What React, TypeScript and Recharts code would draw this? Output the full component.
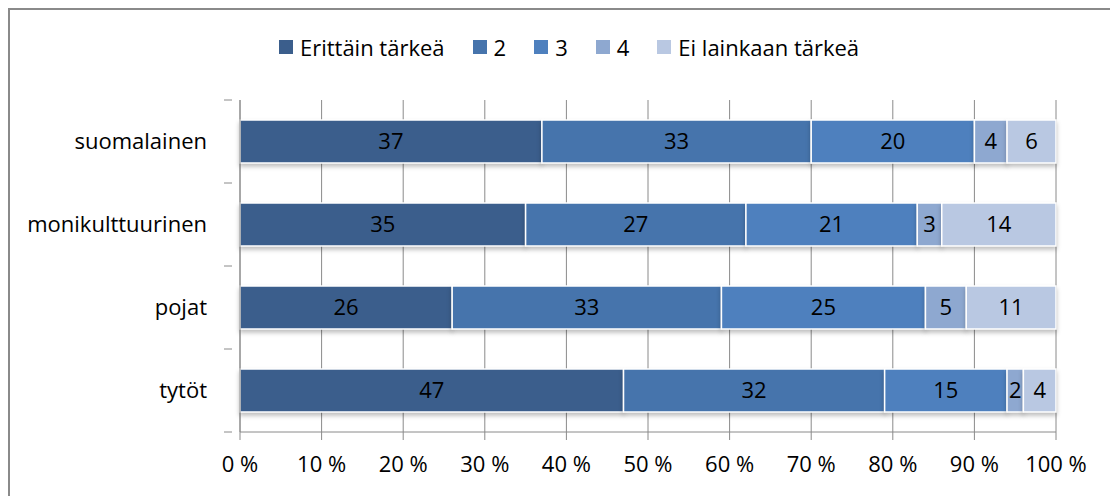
import React from "react";
import {
  BarChart,
  Bar,
  XAxis,
  YAxis,
  CartesianGrid,
  Legend,
  LabelList,
} from "recharts";

const categories = ["suomalainen", "monikulttuurinen", "pojat", "tytöt"];
const seriesNames = ["Erittäin tärkeä", "2", "3", "4", "Ei lainkaan tärkeä"];
const erittainTarkea = [37, 35, 26, 47];
const kaksi = [33, 27, 33, 32];
const kolme = [20, 21, 25, 15];
const nelja = [4, 3, 5, 2];
const eiLainkaan = [6, 14, 11, 4];
const xTicks = [0, 10, 20, 30, 40, 50, 60, 70, 80, 90, 100];

const colors = ["#3B5E8C", "#4674AC", "#4E80BE", "#8EA8D0", "#B9C8E2"];
const keys = ["s1", "s2", "s3", "s4", "s5"];
const FONT = "'Open Sans', sans-serif";
const FS = 22;

const data = categories.map((name, i) => ({
  name,
  s1: erittainTarkea[i],
  s2: kaksi[i],
  s3: kolme[i],
  s4: nelja[i],
  s5: eiLainkaan[i],
}));

const HALF_BAND = 41.5;

function CategoryTick(props: any) {
  const { x, y, payload, index } = props;
  return (
    <g>
      <line x1={x - 8} x2={x} y1={y - HALF_BAND} y2={y - HALF_BAND} stroke="#8a8a8a" />
      {index === categories.length - 1 && (
        <line x1={x - 8} x2={x} y1={y + HALF_BAND} y2={y + HALF_BAND} stroke="#8a8a8a" />
      )}
      <text
        x={x - 25}
        y={y}
        dy="0.35em"
        textAnchor="end"
        fontSize={FS}
        fontFamily={FONT}
        fill="#000"
      >
        {payload.value}
      </text>
    </g>
  );
}

function LegendContent() {
  return (
    <div
      style={{
        display: "flex",
        justifyContent: "center",
        alignItems: "center",
        gap: 28,
        fontFamily: FONT,
        fontSize: FS,
        color: "#000",
        paddingLeft: 10,
      }}
    >
      {seriesNames.map((n, i) => (
        <div key={n} style={{ display: "flex", alignItems: "center" }}>
          <span
            style={{
              display: "inline-block",
              width: 14,
              height: 14,
              background: colors[i],
              marginRight: 7,
            }}
          />
          <span>{n}</span>
        </div>
      ))}
    </div>
  );
}

export default function App() {
  return (
    <div
      style={{
        width: 1108,
        height: 486,
        borderTop: "2px solid #8a8a8a",
        borderLeft: "2px solid #8a8a8a",
        background: "#fff",
      }}
    >
      <style>{`.recharts-bar-rectangle path { filter: drop-shadow(0 3px 2px rgba(0,0,0,0.25)); }`}</style>
      <BarChart
        width={1108}
        height={486}
        data={data}
        layout="vertical"
        margin={{ top: 50, right: 62, left: 0, bottom: 0 }}
        barSize={43}
      >
        <CartesianGrid vertical horizontal={false} stroke="#8a8a8a" />
        <XAxis
          type="number"
          domain={[0, 100]}
          ticks={xTicks}
          interval={0}
          tickFormatter={(v) => `${v} %`}
          height={64}
          tickSize={8}
          tickMargin={16}
          axisLine={{ stroke: "#8a8a8a" }}
          tickLine={{ stroke: "#8a8a8a" }}
          tick={{ fontSize: FS, fontFamily: FONT, fill: "#000" }}
        />
        <YAxis
          type="category"
          dataKey="name"
          width={230}
          tickLine={false}
          axisLine={{ stroke: "#8a8a8a" }}
          tick={<CategoryTick />}
        />
        <Legend
          verticalAlign="top"
          height={40}
          wrapperStyle={{ top: 22, left: 0, width: 1108 }}
          content={<LegendContent />}
        />
        {keys.map((k, i) => (
          <Bar
            key={k}
            dataKey={k}
            name={seriesNames[i]}
            stackId="a"
            fill={colors[i]}
            stroke="#fff"
            strokeWidth={1.5}
            isAnimationActive={false}
          >
            <LabelList
              dataKey={k}
              position="center"
              fill="#000"
              fontSize={FS}
              fontFamily={FONT}
            />
          </Bar>
        ))}
      </BarChart>
    </div>
  );
}
